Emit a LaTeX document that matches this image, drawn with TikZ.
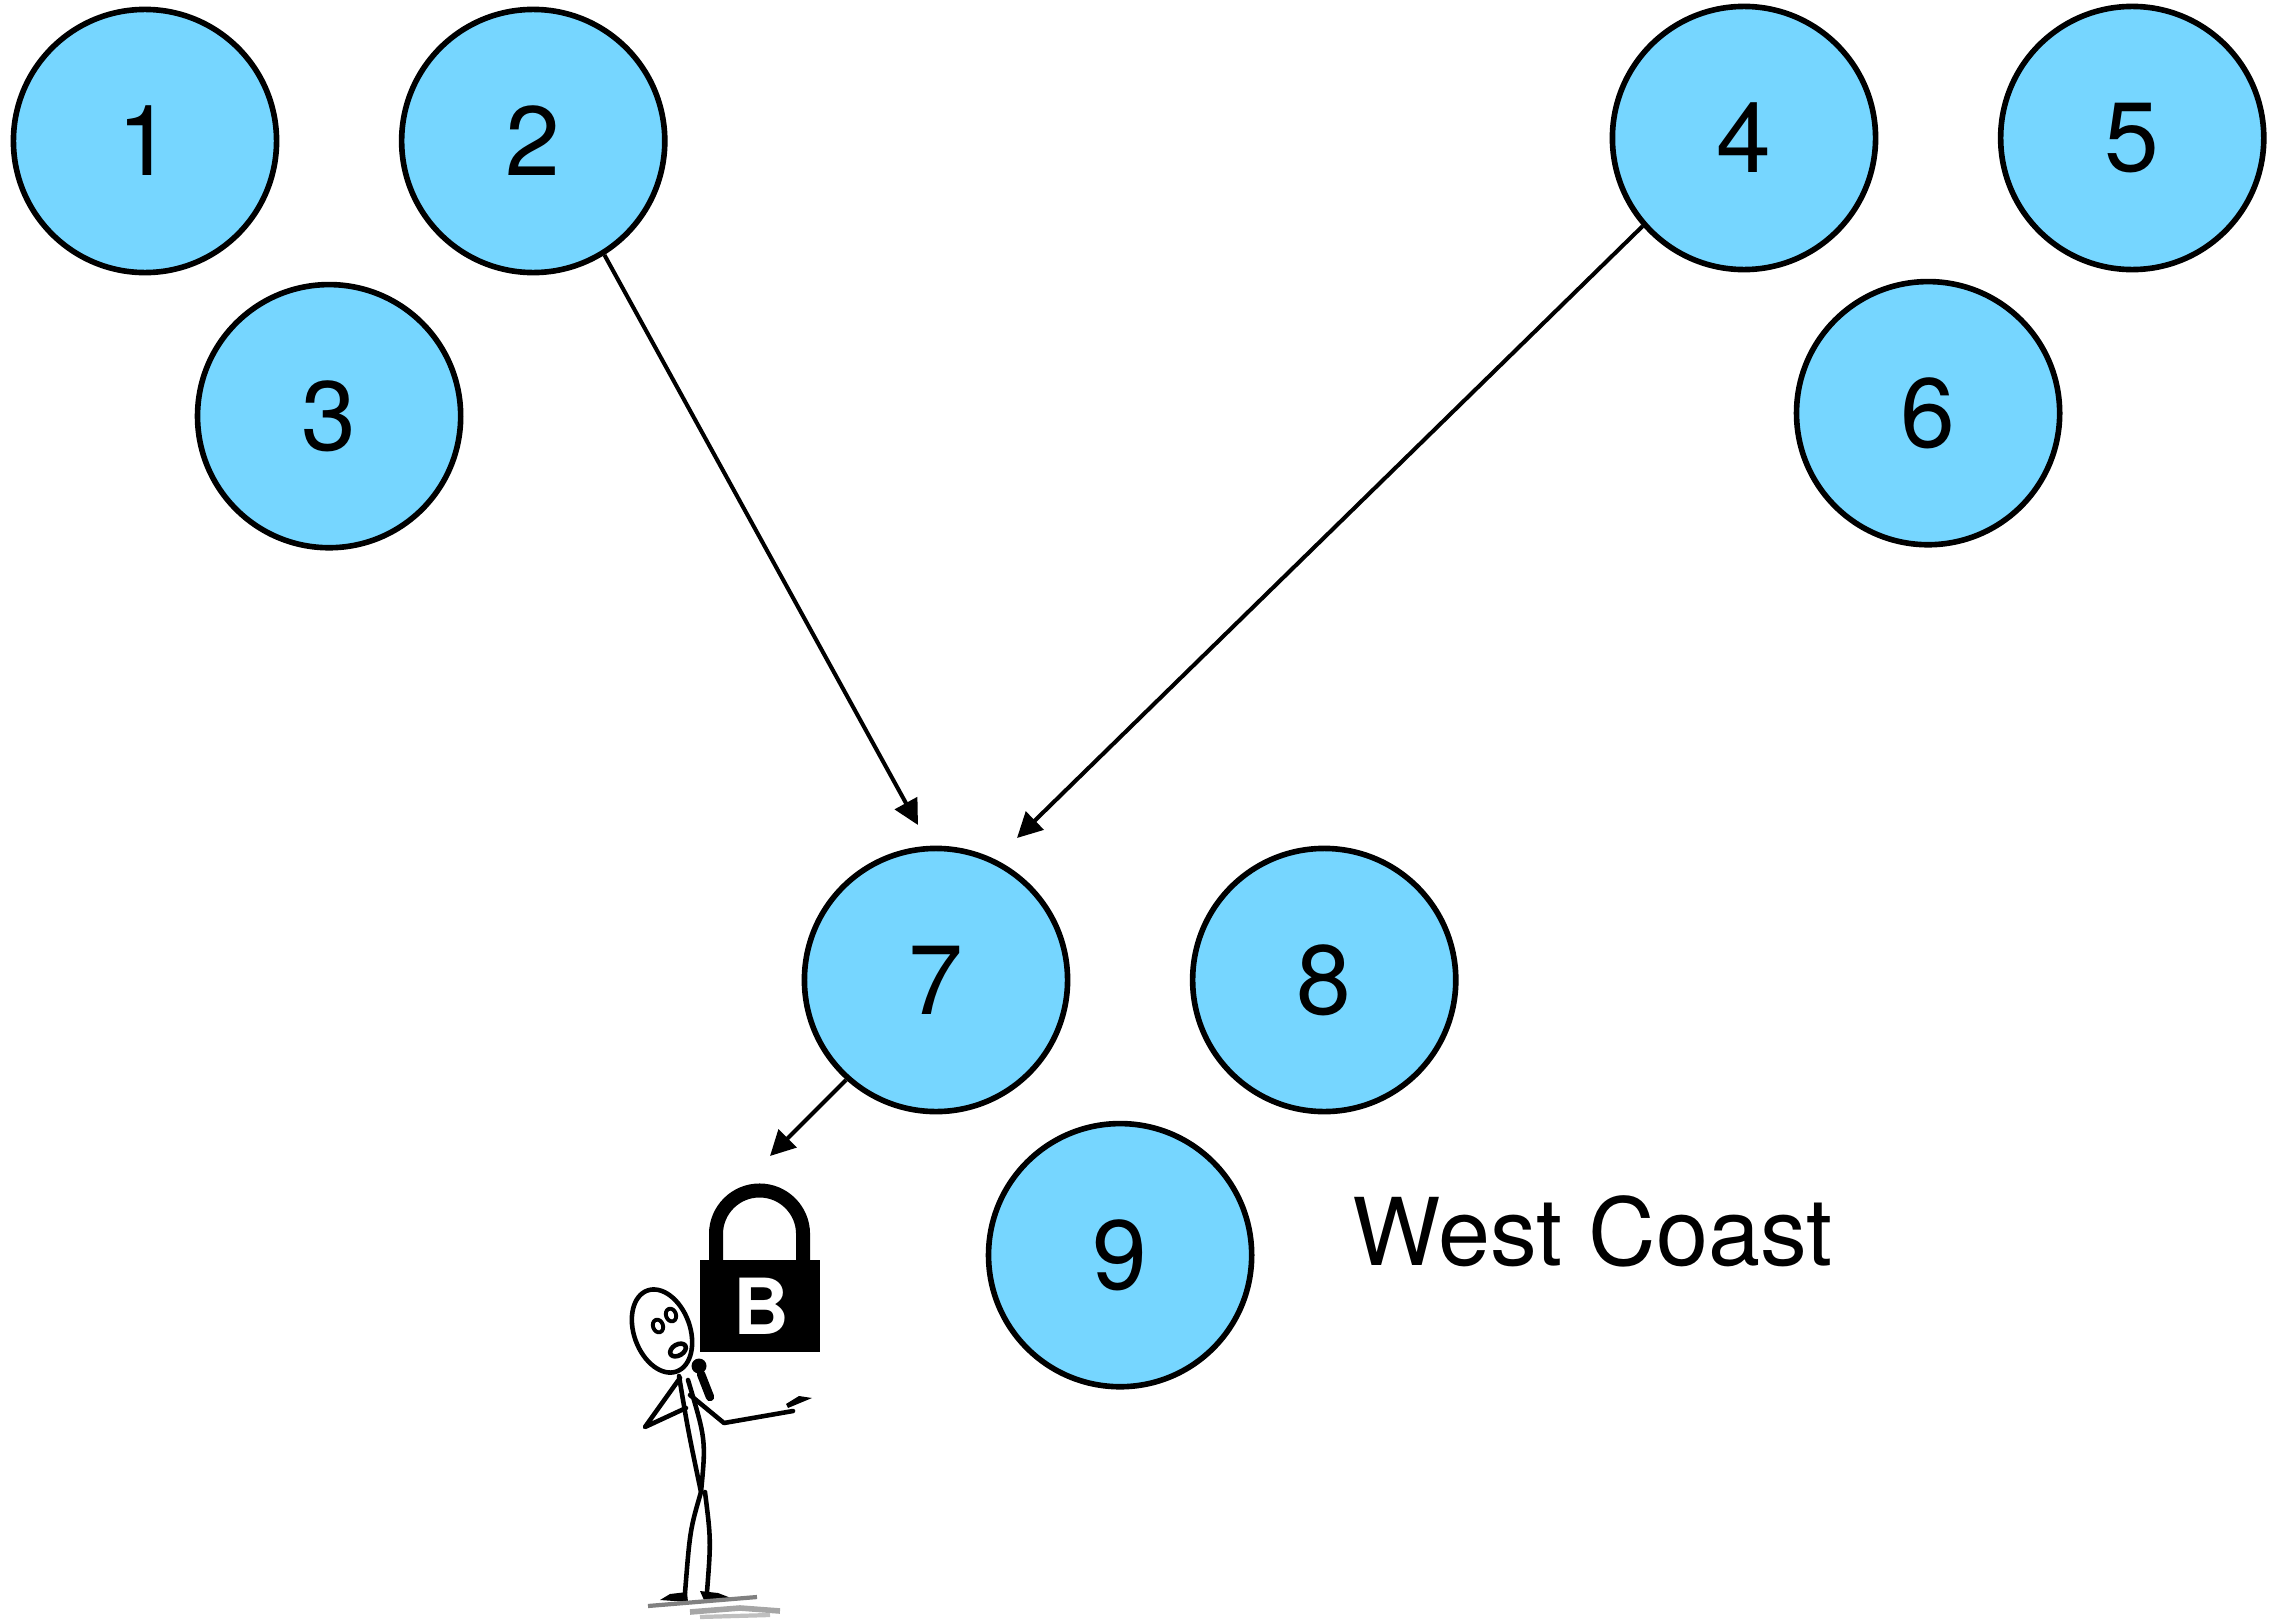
\documentclass[tikz,border=0pt]{standalone}
\usepackage{fontspec}
\setmainfont{TeX Gyre Heros}
\usetikzlibrary{arrows.meta,positioning}
\definecolor{sky}{HTML}{76D6FF}

\begin{document}
\begin{tikzpicture}[x=0.01cm,y=-0.01cm,>={Triangle[length=0.25cm,width=0.25cm]},
        node distance=2.75cm and 1.84cm,on grid,
        main node/.style={circle,fill=sky,draw,line width=1.6pt,minimum size=2.63cm,inner sep=0pt,font=\fontsize{28}{34}\selectfont},
        stick/.style={line width=1.3pt,line cap=round,line join=round}]
        \useasboundingbox (0,0) rectangle (2281,1624);

        \node[main node] (1) at (145,141) {1};
        \node[main node] (2) [right=3.88cm of 1] {2};
        \node[main node] (3) [below right=2.75cm and 1.84cm of 1] {3};
        \node[main node] (4) at (1744,138) {4};
        \node[main node] (5) [right=3.88cm of 4] {5};
        \node[main node] (6) [below right=2.75cm and 1.84cm of 4] {6};
        \node[main node] (7) at (936,980) {7};
        \node[main node] (8) [right=3.88cm of 7] {8};
        \node[main node] (9) [below right=2.75cm and 1.84cm of 7] {9};

        \node[anchor=base west,inner sep=0pt,font=\fontsize{26.6}{32}\selectfont] (coast) at (1352,1265) {West Coast};

        \coordinate (in72) at (918,825);
        \coordinate (in74) at (1017,838);
        \coordinate (lockin) at (770,1156);

        \path[->,line width=1.15pt]
        (2.-58) edge (in72)
        (4.221) edge (in74)
        (7.228) edge (lockin);

        % padlock
        \draw[line width=0.14cm] (716,1262) -- (716,1234) arc[start angle=180,end angle=0,radius=0.435cm] -- (803,1262);
        \fill (700,1260) rectangle (820,1352);
        \node[text=white,font=\fontsize{22}{26}\selectfont\bfseries] (lockb) at (761,1306) {B};

        % stick figure with a microphone
        \draw[stick,shift={(662,1331)},rotate=20] (0,0) ellipse [x radius=0.28cm,y radius=0.43cm];
        \draw[stick,line width=1.1pt,shift={(658,1326)},rotate=20] (0,0) ellipse [x radius=0.05cm,y radius=0.065cm];
        \draw[stick,line width=1.1pt,shift={(671,1315)},rotate=20] (0,0) ellipse [x radius=0.05cm,y radius=0.065cm];
        \draw[stick,shift={(678,1350)},rotate=30] (0,0) ellipse [x radius=0.085cm,y radius=0.055cm];
        \draw[stick] (680,1378) -- (645,1427) -- (686,1408);
        \draw[stick] (679,1376) .. controls (688,1430) .. (701,1492) .. controls (706,1440) .. (688,1380);
        \draw[stick] (690,1395) -- (724,1423) -- (793,1411);
        \fill (788,1408) -- (812,1398) -- (799,1396) -- (786,1404) -- cycle;
        \fill (699,1366) circle (0.075cm);
        \draw[stick,line width=2.4pt] (701,1374) -- (710,1397);
        \draw[stick] (701,1492) .. controls (690,1530) .. (685,1593);
        \draw[stick] (705,1492) .. controls (711,1540) .. (707,1592);
        \fill (660,1600) -- (670,1594) -- (687,1592) -- (688,1602) -- cycle;
        \fill (700,1591) -- (718,1593) -- (731,1598) -- (704,1600) -- cycle;
        \draw[gray,line width=1.2pt] (648,1606) -- (757,1597);
        \draw[gray!70,line width=1.6pt] (690,1612) -- (740,1608) -- (780,1611);
        \draw[gray!50,line width=1.2pt] (700,1617) -- (770,1615);
\end{tikzpicture}
\end{document}
